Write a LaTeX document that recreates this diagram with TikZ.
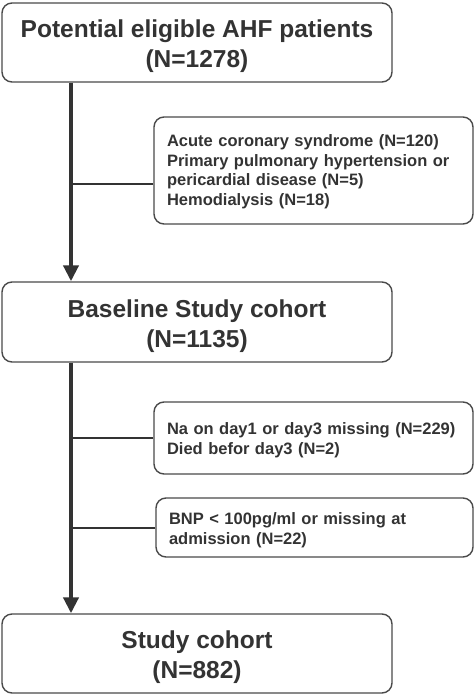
\documentclass[tikz,border=0pt]{standalone}
\usepackage{fontspec}
\setmainfont{Liberation Sans}
\usetikzlibrary{arrows.meta}
\definecolor{ink}{HTML}{333333}
\definecolor{edge}{HTML}{4A4A4A}
\newcommand{\lift}[1]{\rule{0pt}{#1}}
\begin{document}
\begin{tikzpicture}[x=1pt,y=-1pt,
  bigbox/.style={draw=edge,line width=1.4pt,rounded corners=10pt,minimum width=390pt,
    align=center,text=ink,font=\fontsize{24.5}{30}\selectfont\bfseries,inner sep=0pt},
  exbox/.style={draw=edge,line width=1.4pt,rounded corners=10pt,align=left,text=ink,
    font=\fontsize{16.5}{19.6}\selectfont\bfseries,inner xsep=13pt,inner ysep=0pt,text width=293pt},
  mainarrow/.style={draw=ink,line width=4pt,-{Triangle[width=15pt,length=16pt]}},
  branch/.style={draw=ink,line width=2pt}]
\useasboundingbox (0,0) rectangle (474,695);
\node[bigbox,minimum height=79pt] (b1) at (197,42.5) {\lift{25pt}Potential eligible AHF patients\\(N=1278)};
\node[bigbox,minimum height=80pt] (b2) at (197,322) {\lift{26pt}Baseline Study cohort\\(N=1135)};
\node[bigbox,minimum height=79pt] (b3) at (197,653.5) {\lift{26pt}Study cohort\\(N=882)};
\node[exbox,minimum height=107pt] (e1) at (313.5,170.5) {\lift{14.5pt}Acute coronary syndrome (N=120)\\Primary pulmonary hypertension or\\pericardial disease (N=5)\\Hemodialysis (N=18)};
\node[exbox,minimum height=72pt] (e2) at (313.5,438) {\lift{17pt}Na on day1 or day3 missing (N=229)\\Died befor day3 (N=2)};
\node[exbox,minimum height=59pt,text width=291pt] (e3) at (314.5,527.5) {\lift{17pt}BNP {\textless} 100pg/ml or missing at\\admission (N=22)};
\coordinate (v) at (71,0);
\draw[mainarrow] (b1.south -| v) -- (b2.north -| v);
\draw[mainarrow] (b2.south -| v) -- (b3.north -| v);
\draw[branch] ([yshift=-13.5pt]e1.west) -- ([yshift=-13.5pt]e1.west -| v);
\draw[branch] (e2.west) -- (e2.west -| v);
\draw[branch] (e3.west) -- (e3.west -| v);
\end{tikzpicture}
\end{document}
